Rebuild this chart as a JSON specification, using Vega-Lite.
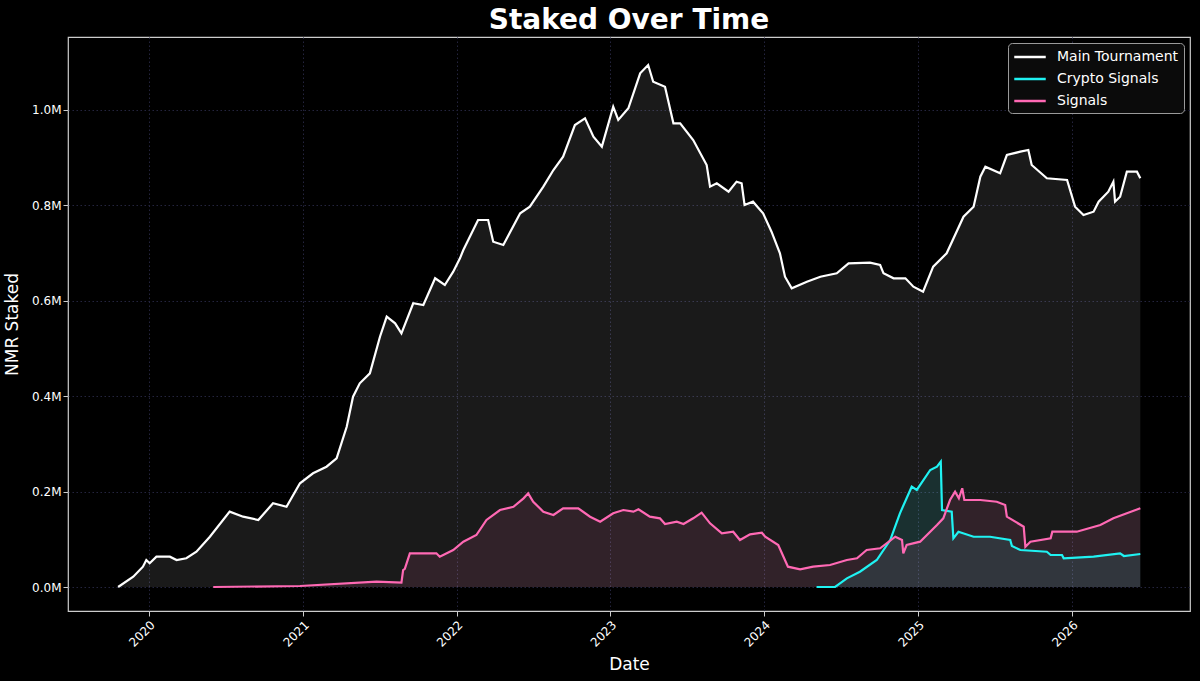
{
  "$schema": "https://vega.github.io/schema/vega-lite/v6.json",
  "width": 1122,
  "height": 574,
  "autosize": "none",
  "padding": {"left": 68, "top": 37, "right": 10, "bottom": 70},
  "background": "#000000",
  "title": {
    "text": "Staked Over Time",
    "color": "#ffffff",
    "font": "DejaVu Sans",
    "fontSize": 28,
    "fontWeight": "bold",
    "offset": 2
  },
  "config": {
    "font": "DejaVu Sans",
    "view": {"stroke": "#cccccc", "strokeWidth": 1.2},
    "axis": {
      "domain": false,
      "grid": true,
      "gridColor": "#24243e",
      "gridDash": [1.5, 2.5],
      "gridWidth": 1,
      "tickColor": "#cccccc",
      "tickSize": 5,
      "labelColor": "#ffffff",
      "labelFont": "DejaVu Sans",
      "labelFontSize": 12,
      "titleColor": "#ffffff",
      "titleFont": "DejaVu Sans",
      "titleFontSize": 17,
      "titleFontWeight": "normal"
    },
    "legend": {
      "orient": "top-right",
      "offset": 6,
      "fillColor": "#0b0b0b",
      "strokeColor": "#9a9a9a",
      "cornerRadius": 4,
      "padding": 5,
      "labelColor": "#ffffff",
      "labelFont": "DejaVu Sans",
      "labelFontSize": 14,
      "symbolType": "M-2.1,0H2.1",
      "symbolSize": 225,
      "symbolOffset": 8,
      "symbolStrokeWidth": 2.5,
      "symbolOpacity": 1,
      "rowPadding": 6,
      "labelOffset": 18
    }
  },
  "data": {
    "values": [
      {"series": "Main Tournament", "date": "2019-10-20", "nmr": 0},
      {"series": "Main Tournament", "date": "2019-11-25", "nmr": 21600},
      {"series": "Main Tournament", "date": "2019-12-18", "nmr": 42600},
      {"series": "Main Tournament", "date": "2019-12-26", "nmr": 56600},
      {"series": "Main Tournament", "date": "2020-01-03", "nmr": 49700},
      {"series": "Main Tournament", "date": "2020-01-19", "nmr": 63500},
      {"series": "Main Tournament", "date": "2020-02-20", "nmr": 63500},
      {"series": "Main Tournament", "date": "2020-03-07", "nmr": 56600},
      {"series": "Main Tournament", "date": "2020-03-30", "nmr": 60200},
      {"series": "Main Tournament", "date": "2020-04-23", "nmr": 74000},
      {"series": "Main Tournament", "date": "2020-05-25", "nmr": 105400},
      {"series": "Main Tournament", "date": "2020-07-11", "nmr": 157900},
      {"series": "Main Tournament", "date": "2020-08-12", "nmr": 147400},
      {"series": "Main Tournament", "date": "2020-09-17", "nmr": 140500},
      {"series": "Main Tournament", "date": "2020-10-22", "nmr": 175500},
      {"series": "Main Tournament", "date": "2020-11-23", "nmr": 168300},
      {"series": "Main Tournament", "date": "2020-12-25", "nmr": 217400},
      {"series": "Main Tournament", "date": "2021-01-25", "nmr": 238400},
      {"series": "Main Tournament", "date": "2021-02-26", "nmr": 252200},
      {"series": "Main Tournament", "date": "2021-03-22", "nmr": 269800},
      {"series": "Main Tournament", "date": "2021-04-15", "nmr": 336000},
      {"series": "Main Tournament", "date": "2021-04-30", "nmr": 399000},
      {"series": "Main Tournament", "date": "2021-05-16", "nmr": 427000},
      {"series": "Main Tournament", "date": "2021-06-09", "nmr": 448000},
      {"series": "Main Tournament", "date": "2021-07-03", "nmr": 524700},
      {"series": "Main Tournament", "date": "2021-07-19", "nmr": 566700},
      {"series": "Main Tournament", "date": "2021-08-08", "nmr": 552800},
      {"series": "Main Tournament", "date": "2021-08-23", "nmr": 531900},
      {"series": "Main Tournament", "date": "2021-09-20", "nmr": 594800},
      {"series": "Main Tournament", "date": "2021-10-14", "nmr": 591200},
      {"series": "Main Tournament", "date": "2021-11-11", "nmr": 647200},
      {"series": "Main Tournament", "date": "2021-12-04", "nmr": 633100},
      {"series": "Main Tournament", "date": "2021-12-24", "nmr": 661000},
      {"series": "Main Tournament", "date": "2022-01-09", "nmr": 689100},
      {"series": "Main Tournament", "date": "2022-01-17", "nmr": 706500},
      {"series": "Main Tournament", "date": "2022-02-21", "nmr": 769400},
      {"series": "Main Tournament", "date": "2022-03-17", "nmr": 769400},
      {"series": "Main Tournament", "date": "2022-03-29", "nmr": 723900},
      {"series": "Main Tournament", "date": "2022-04-22", "nmr": 717000},
      {"series": "Main Tournament", "date": "2022-06-01", "nmr": 783400},
      {"series": "Main Tournament", "date": "2022-06-24", "nmr": 797300},
      {"series": "Main Tournament", "date": "2022-07-26", "nmr": 839200},
      {"series": "Main Tournament", "date": "2022-08-19", "nmr": 874200},
      {"series": "Main Tournament", "date": "2022-09-11", "nmr": 902100},
      {"series": "Main Tournament", "date": "2022-10-09", "nmr": 968500},
      {"series": "Main Tournament", "date": "2022-11-02", "nmr": 982600},
      {"series": "Main Tournament", "date": "2022-11-22", "nmr": 944000},
      {"series": "Main Tournament", "date": "2022-12-12", "nmr": 923100},
      {"series": "Main Tournament", "date": "2023-01-08", "nmr": 1006900},
      {"series": "Main Tournament", "date": "2023-01-20", "nmr": 979000},
      {"series": "Main Tournament", "date": "2023-02-13", "nmr": 1003500},
      {"series": "Main Tournament", "date": "2023-03-13", "nmr": 1076900},
      {"series": "Main Tournament", "date": "2023-04-01", "nmr": 1094300},
      {"series": "Main Tournament", "date": "2023-04-13", "nmr": 1059300},
      {"series": "Main Tournament", "date": "2023-05-11", "nmr": 1048800},
      {"series": "Main Tournament", "date": "2023-05-31", "nmr": 972100},
      {"series": "Main Tournament", "date": "2023-06-16", "nmr": 972100},
      {"series": "Main Tournament", "date": "2023-07-17", "nmr": 937100},
      {"series": "Main Tournament", "date": "2023-08-18", "nmr": 884700},
      {"series": "Main Tournament", "date": "2023-08-26", "nmr": 839200},
      {"series": "Main Tournament", "date": "2023-09-11", "nmr": 846300},
      {"series": "Main Tournament", "date": "2023-10-09", "nmr": 828700},
      {"series": "Main Tournament", "date": "2023-10-28", "nmr": 849700},
      {"series": "Main Tournament", "date": "2023-11-09", "nmr": 846300},
      {"series": "Main Tournament", "date": "2023-11-16", "nmr": 800800},
      {"series": "Main Tournament", "date": "2023-12-06", "nmr": 807800},
      {"series": "Main Tournament", "date": "2023-12-30", "nmr": 783400},
      {"series": "Main Tournament", "date": "2024-01-19", "nmr": 744900},
      {"series": "Main Tournament", "date": "2024-02-08", "nmr": 699600},
      {"series": "Main Tournament", "date": "2024-02-20", "nmr": 650500},
      {"series": "Main Tournament", "date": "2024-03-07", "nmr": 626200},
      {"series": "Main Tournament", "date": "2024-04-12", "nmr": 640000},
      {"series": "Main Tournament", "date": "2024-05-14", "nmr": 650500},
      {"series": "Main Tournament", "date": "2024-06-22", "nmr": 657600},
      {"series": "Main Tournament", "date": "2024-07-20", "nmr": 678600},
      {"series": "Main Tournament", "date": "2024-09-09", "nmr": 679900},
      {"series": "Main Tournament", "date": "2024-10-03", "nmr": 675000},
      {"series": "Main Tournament", "date": "2024-10-11", "nmr": 657600},
      {"series": "Main Tournament", "date": "2024-11-04", "nmr": 647200},
      {"series": "Main Tournament", "date": "2024-12-02", "nmr": 647200},
      {"series": "Main Tournament", "date": "2024-12-21", "nmr": 629600},
      {"series": "Main Tournament", "date": "2025-01-13", "nmr": 619100},
      {"series": "Main Tournament", "date": "2025-02-06", "nmr": 671500},
      {"series": "Main Tournament", "date": "2025-03-10", "nmr": 699600},
      {"series": "Main Tournament", "date": "2025-04-19", "nmr": 776300},
      {"series": "Main Tournament", "date": "2025-05-13", "nmr": 797300},
      {"series": "Main Tournament", "date": "2025-05-29", "nmr": 860100},
      {"series": "Main Tournament", "date": "2025-06-10", "nmr": 881100},
      {"series": "Main Tournament", "date": "2025-07-15", "nmr": 867300},
      {"series": "Main Tournament", "date": "2025-07-31", "nmr": 905600},
      {"series": "Main Tournament", "date": "2025-09-01", "nmr": 912600},
      {"series": "Main Tournament", "date": "2025-09-20", "nmr": 916100},
      {"series": "Main Tournament", "date": "2025-09-28", "nmr": 884700},
      {"series": "Main Tournament", "date": "2025-11-03", "nmr": 856800},
      {"series": "Main Tournament", "date": "2025-12-21", "nmr": 853200},
      {"series": "Main Tournament", "date": "2026-01-09", "nmr": 797300},
      {"series": "Main Tournament", "date": "2026-01-29", "nmr": 779900},
      {"series": "Main Tournament", "date": "2026-02-22", "nmr": 786800},
      {"series": "Main Tournament", "date": "2026-03-06", "nmr": 807800},
      {"series": "Main Tournament", "date": "2026-03-29", "nmr": 828700},
      {"series": "Main Tournament", "date": "2026-04-10", "nmr": 849700},
      {"series": "Main Tournament", "date": "2026-04-14", "nmr": 807800},
      {"series": "Main Tournament", "date": "2026-04-26", "nmr": 818200},
      {"series": "Main Tournament", "date": "2026-05-12", "nmr": 870700},
      {"series": "Main Tournament", "date": "2026-06-05", "nmr": 870700},
      {"series": "Main Tournament", "date": "2026-06-13", "nmr": 856800},

      {"series": "Crypto Signals", "date": "2024-05-05", "nmr": 0},
      {"series": "Crypto Signals", "date": "2024-06-18", "nmr": 0},
      {"series": "Crypto Signals", "date": "2024-07-16", "nmr": 18200},
      {"series": "Crypto Signals", "date": "2024-08-16", "nmr": 32100},
      {"series": "Crypto Signals", "date": "2024-09-25", "nmr": 56600},
      {"series": "Crypto Signals", "date": "2024-10-27", "nmr": 98500},
      {"series": "Crypto Signals", "date": "2024-11-19", "nmr": 154500},
      {"series": "Crypto Signals", "date": "2024-12-17", "nmr": 210300},
      {"series": "Crypto Signals", "date": "2024-12-29", "nmr": 203400},
      {"series": "Crypto Signals", "date": "2025-01-30", "nmr": 245300},
      {"series": "Crypto Signals", "date": "2025-02-15", "nmr": 252200},
      {"series": "Crypto Signals", "date": "2025-02-24", "nmr": 262700},
      {"series": "Crypto Signals", "date": "2025-02-27", "nmr": 161400},
      {"series": "Crypto Signals", "date": "2025-03-22", "nmr": 157900},
      {"series": "Crypto Signals", "date": "2025-03-26", "nmr": 102100},
      {"series": "Crypto Signals", "date": "2025-04-07", "nmr": 115900},
      {"series": "Crypto Signals", "date": "2025-05-13", "nmr": 105400},
      {"series": "Crypto Signals", "date": "2025-06-21", "nmr": 105400},
      {"series": "Crypto Signals", "date": "2025-08-08", "nmr": 98500},
      {"series": "Crypto Signals", "date": "2025-08-12", "nmr": 86000},
      {"series": "Crypto Signals", "date": "2025-09-01", "nmr": 77600},
      {"series": "Crypto Signals", "date": "2025-11-03", "nmr": 74000},
      {"series": "Crypto Signals", "date": "2025-11-12", "nmr": 67100},
      {"series": "Crypto Signals", "date": "2025-12-09", "nmr": 67100},
      {"series": "Crypto Signals", "date": "2025-12-13", "nmr": 60200},
      {"series": "Crypto Signals", "date": "2026-02-22", "nmr": 63500},
      {"series": "Crypto Signals", "date": "2026-04-26", "nmr": 70600},
      {"series": "Crypto Signals", "date": "2026-05-05", "nmr": 65000},
      {"series": "Crypto Signals", "date": "2026-06-13", "nmr": 69200},

      {"series": "Signals", "date": "2020-06-02", "nmr": 0},
      {"series": "Signals", "date": "2020-12-25", "nmr": 2100},
      {"series": "Signals", "date": "2021-06-25", "nmr": 11100},
      {"series": "Signals", "date": "2021-08-23", "nmr": 9000},
      {"series": "Signals", "date": "2021-08-27", "nmr": 35600},
      {"series": "Signals", "date": "2021-08-31", "nmr": 38000},
      {"series": "Signals", "date": "2021-09-12", "nmr": 70600},
      {"series": "Signals", "date": "2021-11-14", "nmr": 70600},
      {"series": "Signals", "date": "2021-11-22", "nmr": 63500},
      {"series": "Signals", "date": "2021-12-24", "nmr": 77600},
      {"series": "Signals", "date": "2022-01-17", "nmr": 95000},
      {"series": "Signals", "date": "2022-02-17", "nmr": 109000},
      {"series": "Signals", "date": "2022-03-13", "nmr": 140500},
      {"series": "Signals", "date": "2022-04-14", "nmr": 161400},
      {"series": "Signals", "date": "2022-05-16", "nmr": 168300},
      {"series": "Signals", "date": "2022-06-09", "nmr": 185900},
      {"series": "Signals", "date": "2022-06-20", "nmr": 196400},
      {"series": "Signals", "date": "2022-07-02", "nmr": 178800},
      {"series": "Signals", "date": "2022-07-26", "nmr": 157900},
      {"series": "Signals", "date": "2022-08-19", "nmr": 150900},
      {"series": "Signals", "date": "2022-09-11", "nmr": 165000},
      {"series": "Signals", "date": "2022-10-17", "nmr": 165000},
      {"series": "Signals", "date": "2022-11-14", "nmr": 147400},
      {"series": "Signals", "date": "2022-12-08", "nmr": 136900},
      {"series": "Signals", "date": "2023-01-08", "nmr": 154500},
      {"series": "Signals", "date": "2023-02-01", "nmr": 161400},
      {"series": "Signals", "date": "2023-02-25", "nmr": 157900},
      {"series": "Signals", "date": "2023-03-09", "nmr": 162900},
      {"series": "Signals", "date": "2023-04-05", "nmr": 147400},
      {"series": "Signals", "date": "2023-04-29", "nmr": 144000},
      {"series": "Signals", "date": "2023-05-11", "nmr": 132100},
      {"series": "Signals", "date": "2023-06-08", "nmr": 136900},
      {"series": "Signals", "date": "2023-06-24", "nmr": 132100},
      {"series": "Signals", "date": "2023-07-17", "nmr": 144000},
      {"series": "Signals", "date": "2023-08-06", "nmr": 155800},
      {"series": "Signals", "date": "2023-08-26", "nmr": 133500},
      {"series": "Signals", "date": "2023-09-23", "nmr": 112600},
      {"series": "Signals", "date": "2023-10-20", "nmr": 115900},
      {"series": "Signals", "date": "2023-11-05", "nmr": 98500},
      {"series": "Signals", "date": "2023-11-29", "nmr": 110500},
      {"series": "Signals", "date": "2023-12-27", "nmr": 113800},
      {"series": "Signals", "date": "2024-01-04", "nmr": 105400},
      {"series": "Signals", "date": "2024-02-04", "nmr": 88000},
      {"series": "Signals", "date": "2024-02-27", "nmr": 42600},
      {"series": "Signals", "date": "2024-03-27", "nmr": 37100},
      {"series": "Signals", "date": "2024-04-27", "nmr": 42600},
      {"series": "Signals", "date": "2024-06-06", "nmr": 46100},
      {"series": "Signals", "date": "2024-07-16", "nmr": 56600},
      {"series": "Signals", "date": "2024-08-09", "nmr": 60200},
      {"series": "Signals", "date": "2024-09-01", "nmr": 77600},
      {"series": "Signals", "date": "2024-10-03", "nmr": 81100},
      {"series": "Signals", "date": "2024-11-08", "nmr": 105400},
      {"series": "Signals", "date": "2024-11-24", "nmr": 98500},
      {"series": "Signals", "date": "2024-11-27", "nmr": 70600},
      {"series": "Signals", "date": "2024-12-05", "nmr": 88000},
      {"series": "Signals", "date": "2025-01-06", "nmr": 95000},
      {"series": "Signals", "date": "2025-02-15", "nmr": 130000},
      {"series": "Signals", "date": "2025-03-02", "nmr": 144000},
      {"series": "Signals", "date": "2025-03-18", "nmr": 182400},
      {"series": "Signals", "date": "2025-03-30", "nmr": 199800},
      {"series": "Signals", "date": "2025-04-08", "nmr": 186000},
      {"series": "Signals", "date": "2025-04-16", "nmr": 207000},
      {"series": "Signals", "date": "2025-04-21", "nmr": 182400},
      {"series": "Signals", "date": "2025-05-29", "nmr": 182400},
      {"series": "Signals", "date": "2025-07-07", "nmr": 178800},
      {"series": "Signals", "date": "2025-07-27", "nmr": 171900},
      {"series": "Signals", "date": "2025-07-31", "nmr": 147400},
      {"series": "Signals", "date": "2025-09-09", "nmr": 126400},
      {"series": "Signals", "date": "2025-09-13", "nmr": 84500},
      {"series": "Signals", "date": "2025-09-25", "nmr": 95000},
      {"series": "Signals", "date": "2025-11-12", "nmr": 102100},
      {"series": "Signals", "date": "2025-11-16", "nmr": 115900},
      {"series": "Signals", "date": "2026-01-13", "nmr": 115900},
      {"series": "Signals", "date": "2026-03-10", "nmr": 130000},
      {"series": "Signals", "date": "2026-04-10", "nmr": 144000},
      {"series": "Signals", "date": "2026-05-12", "nmr": 154500},
      {"series": "Signals", "date": "2026-06-13", "nmr": 165000}
    ]
  },
  "encoding": {
    "x": {
      "field": "date",
      "type": "temporal",
      "title": "Date",
      "scale": {"domain": ["2019-06-23", "2026-10-09"], "nice": false},
      "axis": {
        "format": "%Y",
        "tickCount": {"interval": "year", "step": 1},
        "labelAngle": -45,
        "labelAlign": "right",
        "labelBaseline": "top",
        "labelPadding": 3,
        "titlePadding": 8
      }
    },
    "y": {
      "field": "nmr",
      "type": "quantitative",
      "title": "NMR Staked",
      "stack": null,
      "scale": {"domain": [-50300, 1153000], "nice": false, "zero": false},
      "axis": {
        "values": [0, 200000, 400000, 600000, 800000, 1000000],
        "labelExpr": "format(datum.value / 1000000, '.1f') + 'M'",
        "titlePadding": 10
      }
    },
    "color": {
      "field": "series",
      "type": "nominal",
      "title": null,
      "scale": {
        "domain": ["Main Tournament", "Crypto Signals", "Signals"],
        "range": ["#ffffff", "#1ff2f2", "#ff69b4"]
      }
    }
  },
  "layer": [
    {
      "mark": {"type": "area", "opacity": 0.1}
    },
    {
      "mark": {"type": "line", "strokeWidth": 2.2}
    }
  ]
}
